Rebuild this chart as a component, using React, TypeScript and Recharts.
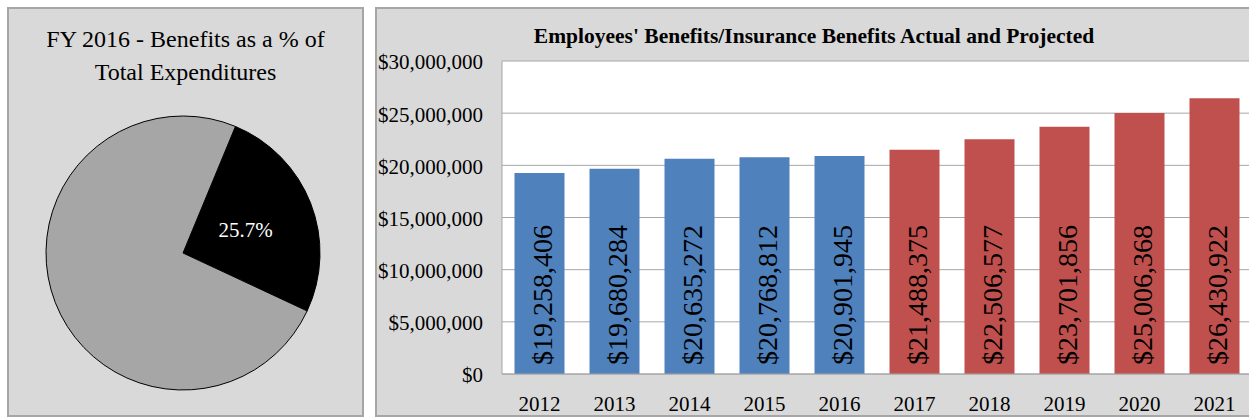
import React from 'react';
import { BarChart, Bar, XAxis, YAxis, CartesianGrid, LabelList, PieChart, Pie, Cell } from 'recharts';

const years = ['2012', '2013', '2014', '2015', '2016', '2017', '2018', '2019', '2020', '2021'];
const actual = [19258406, 19680284, 20635272, 20768812, 20901945, null, null, null, null, null];
const projected = [null, null, null, null, null, 21488375, 22506577, 23701856, 25006368, 26430922];
const yTicks = [0, 5000000, 10000000, 15000000, 20000000, 25000000, 30000000];

const pieNames = ['Benefits', 'Other Expenditures'];
const pieValues = [25.7, 74.3];
const pieColors = ['#000000', '#a6a6a6'];

const FONT = '"Liberation Serif", serif';

const barData = years.map((y, i) => ({ year: y, actual: actual[i], projected: projected[i] }));
const pieData = pieNames.map((n, i) => ({ name: n, value: pieValues[i] }));

const money = (v: number) => '$' + v.toLocaleString('en-US');

const BarText = (props: any) => {
    const { x, y, width, height, value } = props;
    if (value == null) return null;
    const tx = x + width / 2 + 12;
    const ty = y + height - 9;
    return (
        <text x={tx} y={ty} transform={`rotate(-90, ${tx}, ${ty})`} textAnchor='start' fontSize={28} fontFamily={FONT} fill='#000'>
            {money(value)}
        </text>
    );
};

const PieText = (props: any) => {
    const { cx, cy, midAngle, outerRadius, value } = props;
    if (value !== pieValues[0]) return null;
    const rad = (Math.PI / 180) * midAngle;
    const r = outerRadius * 0.49;
    const lx = cx + r * Math.cos(rad);
    const ly = cy - r * Math.sin(rad) + 1;
    return (
        <text x={lx} y={ly} textAnchor='middle' dominantBaseline='central' fontSize={21} fontFamily={FONT} fill='#fff'>
            {value}%
        </text>
    );
};

const panel: React.CSSProperties = {
    position: 'absolute',
    top: 7,
    height: 410,
    background: '#d9d9d9',
    border: '2px solid #a6a6a6',
    boxSizing: 'border-box',
};

const App = (): React.ReactElement => {
    return (
        <div style={{ position: 'absolute', left: 0, top: 0, width: 1249, height: 419, overflow: 'hidden', fontFamily: FONT }}>
            <div style={{ ...panel, left: 7, width: 357 }} />
            <div style={{ ...panel, left: 375, width: 890 }} />
            <div style={{ position: 'absolute', left: 7, top: 23, width: 357, textAlign: 'center', fontSize: 24, lineHeight: '33px', color: '#000' }}>
                FY 2016 - Benefits as a % of
                <br />
                Total Expenditures
            </div>
            <div style={{ position: 'absolute', left: 375, top: 24, width: 878, textAlign: 'center', fontSize: 21.5, fontWeight: 'bold', color: '#000' }}>
                Employees' Benefits/Insurance Benefits Actual and Projected
            </div>
            <div style={{ position: 'absolute', left: 0, top: 0 }}>
                <PieChart width={370} height={419} margin={{ top: 0, right: 0, bottom: 0, left: 0 }}>
                    <Pie
                        data={pieData}
                        dataKey='value'
                        nameKey='name'
                        cx={183}
                        cy={253}
                        outerRadius={137}
                        startAngle={67.5}
                        endAngle={-292.5}
                        stroke='#000'
                        strokeWidth={1}
                        label={PieText}
                        labelLine={false}
                        isAnimationActive={false}
                    >
                        {pieData.map((d, i) => (
                            <Cell key={d.name} fill={pieColors[i]} />
                        ))}
                    </Pie>
                </PieChart>
            </div>
            <div style={{ position: 'absolute', left: 375, top: 7 }}>
                <BarChart
                    width={877}
                    height={408}
                    data={barData}
                    margin={{ top: 54, right: 0, left: 0, bottom: 0 }}
                    barCategoryGap='16.67%'
                    barGap={0}
                >
                    <CartesianGrid horizontal={true} vertical={false} stroke='#a6a6a6' fill='#ffffff' />
                    <XAxis
                        dataKey='year'
                        height={41}
                        tickSize={0}
                        tickMargin={22}
                        axisLine={{ stroke: '#a6a6a6' }}
                        tick={{ fontSize: 21, fill: '#000', fontFamily: FONT }}
                    />
                    <YAxis
                        width={127}
                        domain={[0, 30000000]}
                        ticks={yTicks}
                        tickFormatter={money}
                        tickSize={0}
                        tickMargin={19}
                        axisLine={{ stroke: '#a6a6a6' }}
                        tick={{ fontSize: 21, fill: '#000', fontFamily: FONT, dy: 1 }}
                    />
                    <Bar dataKey='actual' stackId='a' fill='#4f81bd' isAnimationActive={false}>
                        <LabelList dataKey='actual' content={BarText} />
                    </Bar>
                    <Bar dataKey='projected' stackId='a' fill='#c0504d' isAnimationActive={false}>
                        <LabelList dataKey='projected' content={BarText} />
                    </Bar>
                </BarChart>
            </div>
        </div>
    );
};

export default App;
